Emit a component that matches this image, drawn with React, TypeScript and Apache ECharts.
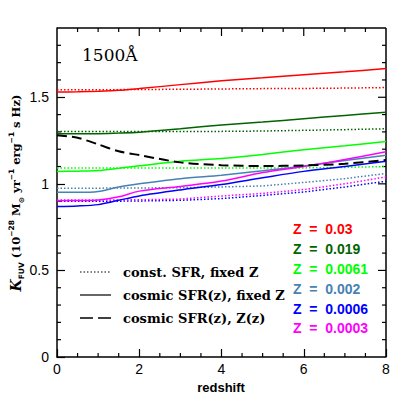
import React, { useEffect, useRef } from "react";
import * as echarts from "echarts";

const redshift = [0, 0.5, 1, 1.5, 2, 3, 4, 5, 6, 7, 8];

const z003Solid = [1.53, 1.532, 1.535, 1.54, 1.55, 1.573, 1.595, 1.612, 1.63, 1.647, 1.666];
const z003Dot = [1.544, 1.544, 1.544, 1.544, 1.545, 1.546, 1.548, 1.55, 1.551, 1.553, 1.556];
const z019Solid = [1.289, 1.289, 1.29, 1.293, 1.298, 1.318, 1.34, 1.357, 1.376, 1.395, 1.413];
const z019Dot = [1.303, 1.303, 1.303, 1.303, 1.303, 1.303, 1.303, 1.305, 1.309, 1.313, 1.318];
const z0061Solid = [1.071, 1.073, 1.077, 1.09, 1.104, 1.131, 1.146, 1.17, 1.197, 1.22, 1.244];
const z0061Dot = [1.091, 1.091, 1.091, 1.091, 1.091, 1.091, 1.091, 1.091, 1.092, 1.095, 1.1];
const z002Solid = [0.952, 0.951, 0.956, 0.982, 1.0, 1.03, 1.05, 1.075, 1.103, 1.135, 1.165];
const z002Dot = [0.975, 0.975, 0.975, 0.976, 0.976, 0.978, 0.982, 0.988, 1.008, 1.03, 1.06];
const z0006Solid = [0.869, 0.872, 0.88, 0.905, 0.93, 0.965, 0.996, 1.035, 1.072, 1.1, 1.13];
const z0006Dot = [0.899, 0.899, 0.899, 0.9, 0.901, 0.905, 0.915, 0.933, 0.953, 0.982, 1.015];
const z0003Solid = [0.903, 0.904, 0.907, 0.925, 0.958, 0.985, 1.016, 1.065, 1.1, 1.14, 1.185];
const z0003Dot = [0.907, 0.907, 0.907, 0.907, 0.908, 0.912, 0.93, 0.945, 0.967, 1.0, 1.04];
const zzDashed = [1.281, 1.266, 1.228, 1.188, 1.166, 1.124, 1.108, 1.103, 1.106, 1.116, 1.137];

const xRange = [0, 8];
const xMajorStep = 2;
const xMinorStep = 0.5;
const yRange = [0, 1.9];
const yMajorStep = 0.5;
const yMinorStep = 0.1;

const metallicityLabels = ["Z  =  0.03", "Z  =  0.019", "Z  =  0.0061", "Z  =  0.002", "Z  =  0.0006", "Z  =  0.0003"];
const metallicityColors = ["#ff0000", "#006400", "#00ff00", "#4682b4", "#0000ff", "#ff00ff"];
const legendLabels = ["const. SFR, fixed Z", "cosmic SFR(z), fixed Z", "cosmic SFR(z), Z(z)"];

const FONT = "Liberation Sans";

export default function App() {
  const ref = useRef<HTMLDivElement>(null);
  useEffect(() => {
    const chart = echarts.init(ref.current!, null, { renderer: "svg" });
    const pair = (ys: number[]) => redshift.map((x, i) => [x, ys[i]]);
    const solids = [z003Solid, z019Solid, z0061Solid, z002Solid, z0006Solid, z0003Solid];
    const dots = [z003Dot, z019Dot, z0061Dot, z002Dot, z0006Dot, z0003Dot];
    const series: any[] = [];
    dots.forEach((d, i) =>
      series.push({
        type: "line",
        data: pair(d),
        showSymbol: false,
        lineStyle: { color: metallicityColors[i], width: 1.5, type: [1.5, 2] },
      })
    );
    solids.forEach((d, i) =>
      series.push({
        type: "line",
        data: pair(d),
        showSymbol: false,
        smooth: 0.3,
        lineStyle: { color: metallicityColors[i], width: 1.5 },
      })
    );
    series.push({
      type: "line",
      data: pair(zzDashed),
      showSymbol: false,
      smooth: 0.3,
      lineStyle: { color: "#000", width: 2, type: [10, 5] },
    });

    chart.setOption({
      animation: false,
      backgroundColor: "#fff",
      grid: { left: 57, right: 21, top: 28, bottom: 50 },
      xAxis: {
        type: "value",
        min: xRange[0],
        max: xRange[1],
        interval: xMajorStep,
        axisLine: { show: true, onZero: false, lineStyle: { color: "#000", width: 1.5 } },
        splitLine: { show: false },
        axisTick: { show: true, inside: true, length: 8, lineStyle: { color: "#000", width: 1.2 } },
        axisLabel: { show: true, fontFamily: FONT, fontSize: 14, color: "#000", margin: 5 },
      },
      yAxis: {
        type: "value",
        min: yRange[0],
        max: yRange[1],
        interval: yMajorStep,
        axisLine: { show: true, onZero: false, lineStyle: { color: "#000", width: 1.5 } },
        splitLine: { show: false },
        axisTick: { show: true, inside: true, length: 8, lineStyle: { color: "#000", width: 1.2 } },
        axisLabel: { show: true, showMaxLabel: false, fontFamily: FONT, fontSize: 14, color: "#000", margin: 8 },
      },
      series,
    });

    const graphic: any[] = [
      {
        type: "text",
        left: 82,
        top: 46,
        style: { text: "1500Å", font: "17px 'DejaVu Serif'", fill: "#000" },
      },
      {
        type: "text",
        x: 16,
        y: 193,
        rotation: Math.PI / 2,
        style: {
          text: "{k|K}{sub|FUV} (10{sup|−28} M{sub|⊙} yr{sup|−1} erg{sup|−1} s Hz)",
          align: "center",
          verticalAlign: "middle",
          fill: "#000",
          font: "bold 11.5px 'DejaVu Serif'",
          rich: {
            k: { fontFamily: "DejaVu Serif", fontStyle: "italic", fontWeight: "bold", fontSize: 14, lineHeight: 18, verticalAlign: "middle" },
            sub: { fontFamily: "DejaVu Sans", fontWeight: "bold", fontSize: 7.5, verticalAlign: "bottom", lineHeight: 18 },
            sup: { fontFamily: "DejaVu Sans", fontWeight: "bold", fontSize: 7.5, verticalAlign: "top", lineHeight: 18 },
          },
        },
      },
      {
        type: "text",
        x: 221,
        y: 387,
        style: { text: "redshift", align: "center", verticalAlign: "middle", font: `bold 13px '${FONT}'`, fill: "#000" },
      },
    ];
    const legendY = [272, 295, 318];
    const legendDash: any[] = [[1.5, 2], null, [13, 5]];
    legendLabels.forEach((t, i) => {
      graphic.push({
        type: "line",
        shape: { x1: 80, y1: legendY[i], x2: 111, y2: legendY[i] },
        style: { stroke: "#000", lineWidth: i === 2 ? 1.5 : 1.2, lineDash: legendDash[i] || undefined },
      });
      graphic.push({
        type: "text",
        x: 123,
        y: legendY[i],
        style: { text: t, verticalAlign: "middle", font: `bold 13px 'DejaVu Serif'`, fill: "#000" },
      });
    });
    const zY = [229, 249, 269, 289, 308.5, 328];
    metallicityLabels.forEach((t, i) => {
      graphic.push({
        type: "text",
        x: 293,
        y: zY[i],
        style: { text: t, verticalAlign: "middle", font: `bold 14px '${FONT}'`, fill: metallicityColors[i] },
      });
    });

    // frame and mirrored / minor ticks, placed through the axes' own scales
    try {
      const px = (v: number) => chart.convertToPixel({ xAxisIndex: 0 }, v) as number;
      const py = (v: number) => chart.convertToPixel({ yAxisIndex: 0 }, v) as number;
      const left = px(xRange[0]);
      const right = px(xRange[1]);
      const bottom = py(yRange[0]);
      const top = py(yRange[1]);
      if (isFinite(left) && isFinite(right) && isFinite(top) && isFinite(bottom)) {
        const tickStyle = { stroke: "#000", lineWidth: 1.2 };
        graphic.push({ type: "line", silent: true, shape: { x1: left, y1: top, x2: right, y2: top }, style: { stroke: "#000", lineWidth: 1.5 } });
        graphic.push({ type: "line", silent: true, shape: { x1: right, y1: top, x2: right, y2: bottom }, style: { stroke: "#000", lineWidth: 1.5 } });
        const nx = Math.round((xRange[1] - xRange[0]) / xMinorStep);
        const perMajorX = Math.round(xMajorStep / xMinorStep);
        for (let i = 1; i < nx; i++) {
          const x = px(xRange[0] + i * xMinorStep);
          const len = i % perMajorX === 0 ? 8 : 4;
          graphic.push({ type: "line", silent: true, shape: { x1: x, y1: top, x2: x, y2: top + len }, style: tickStyle });
          if (len === 4) {
            graphic.push({ type: "line", silent: true, shape: { x1: x, y1: bottom, x2: x, y2: bottom - len }, style: tickStyle });
          }
        }
        const ny = Math.round((yRange[1] - yRange[0]) / yMinorStep);
        const perMajorY = Math.round(yMajorStep / yMinorStep);
        for (let i = 1; i < ny; i++) {
          const y = py(yRange[0] + i * yMinorStep);
          const len = i % perMajorY === 0 ? 8 : 4;
          graphic.push({ type: "line", silent: true, shape: { x1: right, y1: y, x2: right - len, y2: y }, style: tickStyle });
          if (len === 4) {
            graphic.push({ type: "line", silent: true, shape: { x1: left, y1: y, x2: left + len, y2: y }, style: tickStyle });
          }
        }
      }
    } catch (e) {
      // keep the chart even if pixel conversion is unavailable
    }

    chart.setOption({ graphic });
    return () => chart.dispose();
  }, []);
  return <div ref={ref} style={{ width: 407, height: 407, position: "absolute", left: 0, top: 0 }} />;
}
